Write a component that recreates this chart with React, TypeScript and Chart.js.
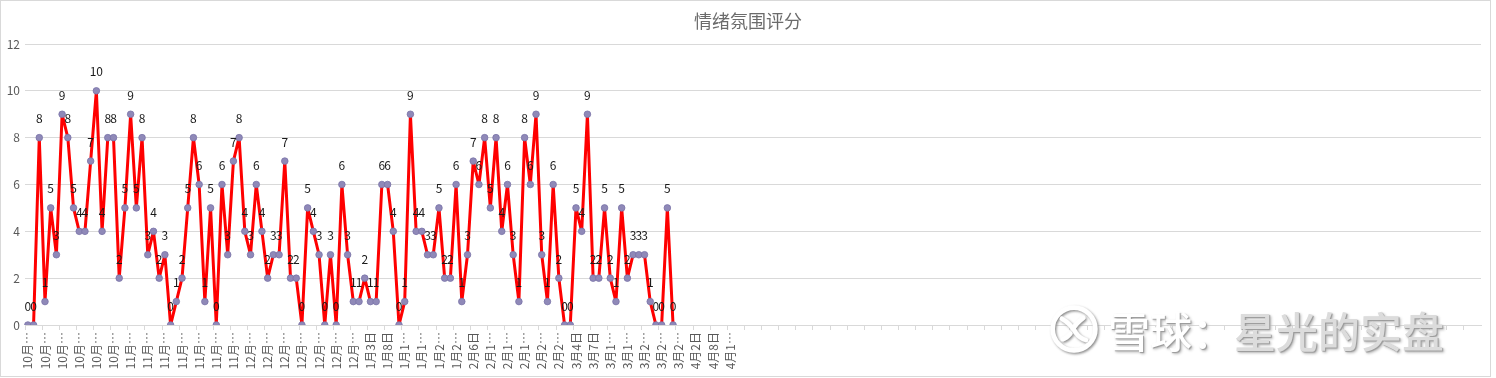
import React, { useEffect, useRef } from 'react';
import { Chart, registerables } from 'chart.js';

Chart.register(...registerables);

const chartTitle = '情绪氛围评分';
const categoryCount = 255;
const tickLabels = [
  '10月…', '10月…', '10月…', '10月…', '10月…', '10月…',
  '11月…', '11月…', '11月…', '11月…', '11月…', '11月…', '11月…',
  '12月…', '12月…', '12月…', '12月…', '12月…', '12月…', '12月…',
  '1月3日', '1月8日', '1月1…', '1月1…', '1月2…', '1月2…',
  '2月6日', '2月1…', '2月1…', '2月1…', '2月2…', '2月2…',
  '3月4日', '3月7日', '3月1…', '3月1…', '3月2…', '3月2…', '3月2…',
  '4月2日', '4月8日', '4月1…',
];
const scores = [
  0, 0, 8, 1, 5, 3, 9, 8, 5, 4, 4, 7, 10, 4, 8, 8, 2, 5, 9, 5,
  8, 3, 4, 2, 3, 0, 1, 2, 5, 8, 6, 1, 5, 0, 6, 3, 7, 8, 4, 3,
  6, 4, 2, 3, 3, 7, 2, 2, 0, 5, 4, 3, 0, 3, 0, 6, 3, 1, 1, 2,
  1, 1, 6, 6, 4, 0, 1, 9, 4, 4, 3, 3, 5, 2, 2, 6, 1, 3, 7, 6,
  8, 5, 8, 4, 6, 3, 1, 8, 6, 9, 3, 1, 6, 2, 0, 0, 5, 4, 9, 2,
  2, 5, 2, 1, 5, 2, 3, 3, 3, 1, 0, 0, 5, 0,
];
const yTicks = [0, 2, 4, 6, 8, 10, 12];
const labelStep = 3;

const FONT = '"Microsoft YaHei", "Noto Sans CJK SC", "Noto Sans", sans-serif';

const dataLabelPlugin = {
  id: 'pointValueLabels',
  afterDatasetsDraw(chart: any) {
    const ctx = chart.ctx;
    const meta = chart.getDatasetMeta(0);
    const values = chart.data.datasets[0].data;
    ctx.save();
    ctx.font = `12px ${FONT}`;
    ctx.fillStyle = '#1a1a1a';
    ctx.textAlign = 'center';
    ctx.textBaseline = 'middle';
    meta.data.forEach((pt: any, i: number) => {
      const v = values[i];
      if (v === null || v === undefined) return;
      ctx.fillText(String(v), pt.x, pt.y - 19);
    });
    ctx.restore();
  },
};

const titlePlugin = {
  id: 'centeredTitle',
  afterDraw(chart: any) {
    const ctx = chart.ctx;
    ctx.save();
    ctx.font = `18px ${FONT}`;
    ctx.fillStyle = '#6b6b6b';
    ctx.textAlign = 'center';
    ctx.textBaseline = 'middle';
    ctx.fillText(chartTitle, chart.width / 2, 21);
    ctx.restore();
  },
};

export default function App() {
  const canvasRef = useRef<HTMLCanvasElement | null>(null);

  useEffect(() => {
    const categories = Array.from({ length: categoryCount }, (_, i) =>
      i % labelStep === 0 && tickLabels[i / labelStep] ? tickLabels[i / labelStep] : ''
    );
    const data = Array.from({ length: categoryCount }, (_, i) =>
      i < scores.length ? scores[i] : null
    );
    const chart = new Chart(canvasRef.current as HTMLCanvasElement, {
      type: 'line',
      data: {
        labels: categories,
        datasets: [
          {
            data,
            borderColor: '#ff0000',
            borderWidth: 3,
            borderJoinStyle: 'round',
            borderCapStyle: 'round',
            tension: 0,
            pointRadius: 3.3,
            pointBackgroundColor: '#8f89b8',
            pointBorderColor: '#7a74a8',
            pointBorderWidth: 0.8,
            spanGaps: false,
          },
        ],
      },
      options: {
        animation: false,
        responsive: true,
        maintainAspectRatio: false,
        layout: { padding: { left: 0, right: 15, top: 44, bottom: 0 } },
        plugins: {
          legend: { display: false },
          tooltip: { enabled: false },
          title: { display: false },
        },
        scales: {
          x: {
            offset: true,
            afterFit: (s: any) => {
              s.height = 53;
            },
            grid: {
              offset: true,
              drawOnChartArea: false,
              drawTicks: true,
              tickLength: 5,
              color: (c: any) => (c.index % labelStep === 0 ? '#d9d9d9' : 'rgba(0,0,0,0)'),
            },
            border: { display: true, color: '#d9d9d9', width: 1 },
            ticks: {
              autoSkip: false,
              maxRotation: 90,
              minRotation: 90,
              padding: 2,
              color: '#595959',
              font: { family: FONT, size: 12 },
              callback: (_v: any, i: number) => categories[i],
            },
          },
          y: {
            min: 0,
            max: 12,
            afterFit: (s: any) => {
              s.width = 25;
            },
            afterBuildTicks: (s: any) => {
              s.ticks = yTicks.map((v) => ({ value: v }));
            },
            grid: { color: '#d9d9d9', drawTicks: false, lineWidth: 1 },
            border: { display: false },
            ticks: {
              padding: 5,
              color: '#595959',
              font: { family: FONT, size: 12 },
            },
          },
        },
      },
      plugins: [dataLabelPlugin, titlePlugin],
    });
    return () => chart.destroy();
  }, []);

  const shadow = '1px 1px 1px #9a9a9a, 2px 2px 3px #b8b8b8';

  return (
    <div style={{ position: 'absolute', left: 0, top: 0, width: 1496, height: 378, background: '#fff', overflow: 'hidden' }}>
      <div style={{ position: 'absolute', left: 0, top: 0, width: 1496, height: 378 }}>
        <canvas ref={canvasRef} />
      </div>
      <div
        style={{
          position: 'absolute', left: 0, top: 0, width: 1489, height: 375,
          border: '1px solid #d9d9d9', pointerEvents: 'none',
        }}
      />
      <svg
        width="52" height="52" viewBox="0 0 56 56"
        style={{ position: 'absolute', left: 1048, top: 303, overflow: 'visible' }}
      >
        <defs>
          <filter id="sh" x="-20%" y="-20%" width="140%" height="140%">
            <feDropShadow dx="1.5" dy="1.5" stdDeviation="1" floodColor="#8c8c8c" />
          </filter>
        </defs>
        <g filter="url(#sh)" fill="none" stroke="#ffffff" strokeWidth="5" strokeLinecap="round">
          <circle cx="28" cy="28" r="23" />
          <path d="M15 17 Q 24 22 30 32 Q 34 38 41 40" />
          <path d="M38 16 Q 30 22 27 28 M24 33 Q 20 38 16 39" />
        </g>
      </svg>
      <div
        style={{
          position: 'absolute', left: 1108, top: 304, whiteSpace: 'nowrap',
          fontFamily: FONT, fontSize: 42, fontWeight: 500, lineHeight: '52px',
          letterSpacing: 0, textShadow: shadow,
        }}
      >
        <span style={{ color: '#ffffff' }}>雪球</span>
        <span style={{ color: '#ffffff' }}>：</span>
        <span style={{ color: '#dcdcdc' }}>星光的实盘</span>
      </div>
    </div>
  );
}
